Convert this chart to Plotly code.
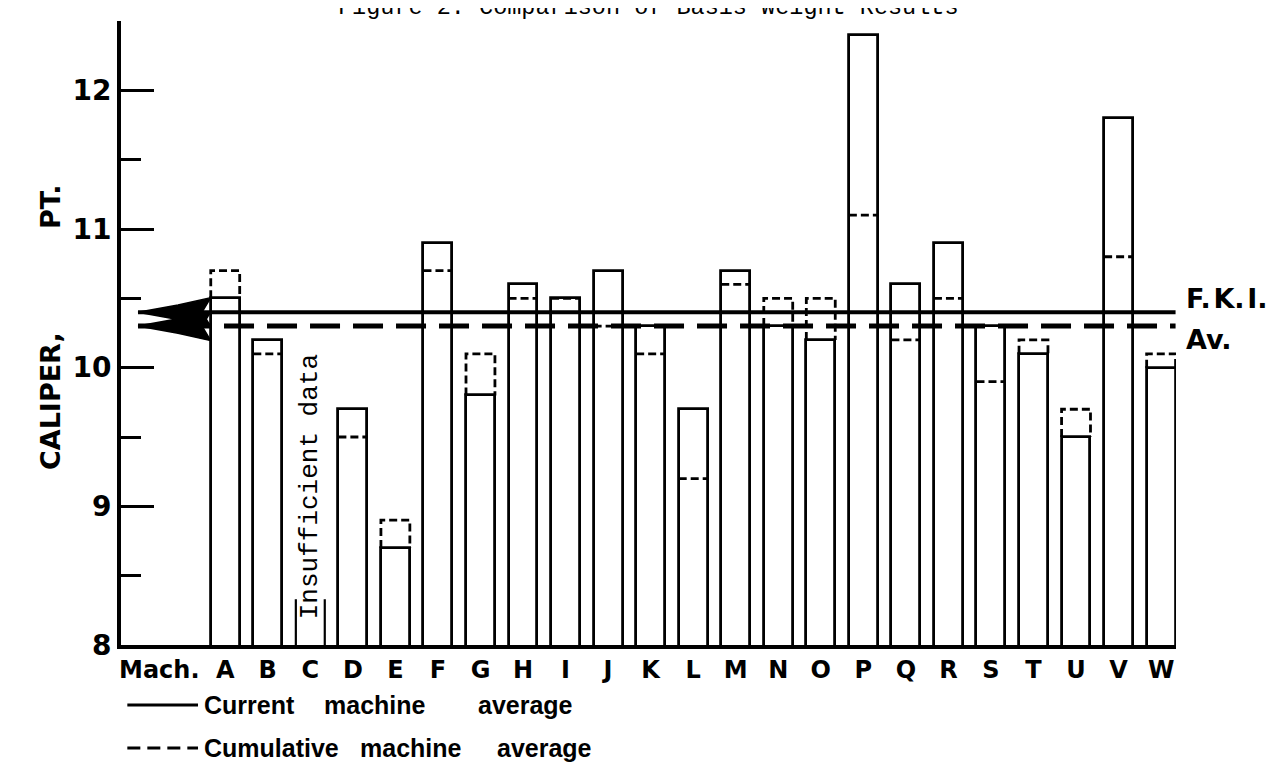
import plotly.graph_objects as go

# ---------------- data ----------------
machines = list("ABCDEFGHIJKLMNOPQRSTUVW")
current_avg = [10.5, 10.2, None, 9.7, 8.7, 10.9, 9.8, 10.6, 10.5, 10.7, 10.3, 9.7,
               10.7, 10.3, 10.2, 12.4, 10.6, 10.9, 10.3, 10.1, 9.5, 11.8, 10.0]
cumulative_avg = [10.7, 10.1, None, 9.5, 8.9, 10.7, 10.1, 10.5, 10.5, 10.3, 10.1, 9.2,
                  10.6, 10.5, 10.5, 11.1, 10.2, 10.5, 9.9, 10.2, 9.7, 10.8, 10.1]
insufficient_machine = "C"
insufficient_stub = 8.33
fki_value = 10.4
av_value = 10.3
y_ticks = [8, 9, 10, 11, 12]
title_text = "Figure 2. Comparison of Basis Weight Results"
legend_current_words = ["Current", "machine", "average"]
legend_cumulative_words = ["Cumulative", "machine", "average"]

# ---------------- styling constants ----------------
BAR_W = 0.68
X_RANGE = [-2.45, 22.35]
Y_RANGE = [8, 12.5]
MACH_POS = -1.55
ARROW_TIP = -2.05
ARROW_TAIL = -0.34
ARROW_H = 0.105
LABEL_FONT = dict(family="DejaVu Sans", size=24, color="black", weight="bold")
RIGHT_FONT = dict(family="DejaVu Sans", size=27, color="black", weight="bold")
LEGEND_FONT = dict(family="Liberation Sans", size=25, color="black", weight="bold")
MONO = "Liberation Mono"
PLOT_L, PLOT_W = 113, 1055
LEG_WORD_PX = [[194, 314, 468], [194, 350, 487]]
LEG_Y = [-0.096, -0.165]

xs = list(range(len(machines)))
fig = go.Figure()

# current machine average: outlined bars
bx = [x for x, v in zip(xs, current_avg) if v is not None]
by = [v for v in current_avg if v is not None]
fig.add_trace(go.Bar(x=bx, y=by, width=BAR_W,
                     marker=dict(color="white", line=dict(color="black", width=2.8)),
                     hoverinfo="skip"))

# cumulative machine average: dashed outlines
cx, cy = [], []
for x, s, c in zip(xs, current_avg, cumulative_avg):
    if s is None or c is None:
        continue
    lo = min(s, c)
    xl, xr = x - BAR_W / 2, x + BAR_W / 2
    cx += [xl, xl, xr, xr, None]
    cy += [lo, c, c, lo, None]
fig.add_trace(go.Scatter(x=cx, y=cy, mode="lines",
                         line=dict(color="black", width=2.8, dash="8px,4px"),
                         hoverinfo="skip"))

# insufficient data stubs
ci = machines.index(insufficient_machine)
fig.add_trace(go.Scatter(x=[ci - BAR_W / 2, ci - BAR_W / 2, None, ci + BAR_W / 2, ci + BAR_W / 2],
                         y=[Y_RANGE[0], insufficient_stub, None, Y_RANGE[0], insufficient_stub],
                         mode="lines", line=dict(color="black", width=2.2), hoverinfo="skip"))

# reference lines
xr_end = xs[-1] + BAR_W / 2
fig.add_trace(go.Scatter(x=[ARROW_TIP, xr_end], y=[fki_value, fki_value], mode="lines",
                         line=dict(color="black", width=4), hoverinfo="skip"))
fig.add_trace(go.Scatter(x=[ARROW_TIP, xr_end], y=[av_value, av_value], mode="lines",
                         line=dict(color="black", width=5, dash="30px,13px"), hoverinfo="skip"))

# arrowheads (barbed, solid)
L = ARROW_TAIL - ARROW_TIP
for v in (fki_value, av_value):
    fig.add_trace(go.Scatter(
        x=[ARROW_TIP, ARROW_TIP + 0.55 * L, ARROW_TAIL, ARROW_TAIL - 0.12 * L,
           ARROW_TAIL, ARROW_TIP + 0.55 * L, ARROW_TIP],
        y=[v, v + 0.5 * ARROW_H, v + ARROW_H, v, v - ARROW_H, v - 0.5 * ARROW_H, v],
        mode="lines", fill="toself", fillcolor="black",
        line=dict(color="black", width=1.5), hoverinfo="skip"))

# annotations
ann = []
ann.append(dict(x=ci, y=8.17, xref="x", yref="y", text="Insufficient data", textangle=-90,
                showarrow=False, xanchor="center", yanchor="bottom",
                font=dict(family=MONO, size=26, color="black")))
ann.append(dict(x=1.008, y=10.5, xref="paper", yref="y", text="F.\u200aK.\u200aI.",
                showarrow=False, xanchor="left", yanchor="middle", font=RIGHT_FONT))
ann.append(dict(x=1.008, y=10.2, xref="paper", yref="y", text="Av.", showarrow=False,
                xanchor="left", yanchor="middle", font=RIGHT_FONT))
ann.append(dict(x=-0.067, y=0.51, xref="paper", yref="paper",
                text="CALIPER," + "&nbsp;" * 11 + "PT.", textangle=-90,
                showarrow=False, xanchor="center", yanchor="middle",
                font=dict(family="DejaVu Sans", size=27, color="black", weight="bold")))
ann.append(dict(x=0.5, y=1.0224, xref="paper", yref="paper", text=title_text,
                showarrow=False, xanchor="center", yanchor="middle",
                font=dict(family=MONO, size=23.5, color="black")))
# legend words
for words, pxs, ly in zip([legend_current_words, legend_cumulative_words], LEG_WORD_PX, LEG_Y):
    for w, px in zip(words, pxs):
        ann.append(dict(x=(px - PLOT_L) / PLOT_W, y=ly, xref="paper", yref="paper", text=w,
                        showarrow=False, xanchor="left", yanchor="middle", font=LEGEND_FONT))

shapes = [
    dict(type="line", xref="paper", yref="paper", x0=0.006, x1=0.073, y0=LEG_Y[0], y1=LEG_Y[0],
         line=dict(color="black", width=3)),
    dict(type="line", xref="paper", yref="paper", x0=0.006, x1=0.073, y0=LEG_Y[1], y1=LEG_Y[1],
         line=dict(color="black", width=3, dash="13px,7px")),
]

fig.update_layout(
    width=1281, height=778,
    margin=dict(l=113, r=113, t=13, b=141),
    paper_bgcolor="white", plot_bgcolor="white",
    showlegend=False,
    annotations=ann, shapes=shapes,
    xaxis=dict(range=X_RANGE, showgrid=False, zeroline=False,
               showline=True, linecolor="black", linewidth=4,
               tickmode="array", tickvals=[MACH_POS] + xs, ticktext=["Mach."] + machines,
               ticks="", tickfont=LABEL_FONT),
    yaxis=dict(range=Y_RANGE, showgrid=False, zeroline=False,
               showline=True, linecolor="black", linewidth=4,
               tickmode="array", tickvals=y_ticks, ticks="inside", ticklen=33, tickwidth=3,
               tickcolor="black", tickfont=dict(family="DejaVu Sans", size=28, color="black", weight="bold"),
               minor=dict(ticks="inside", ticklen=20, tickwidth=3, tickcolor="black", dtick=0.5,
                          tick0=8.5, showgrid=False)),
    bargap=0,
)

fig.write_html("out.html")
